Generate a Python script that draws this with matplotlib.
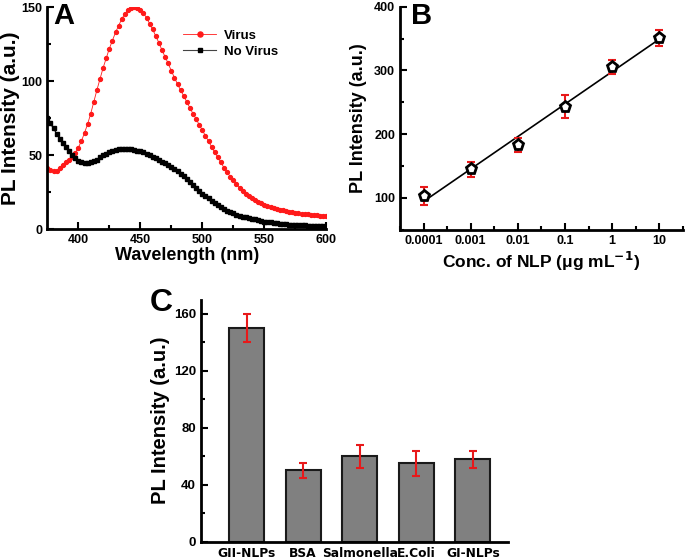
import numpy as np
import matplotlib
matplotlib.use("Agg")
import matplotlib.pyplot as plt
from matplotlib.ticker import FixedLocator, NullFormatter

plt.rcParams['font.family'] = ['Liberation Sans', 'DejaVu Sans']
plt.rcParams['font.weight'] = 'bold'

# ---------------- Panel A data ----------------
wavelength = np.arange(375, 600.1, 2.5)
virus = [41, 40, 39, 39.5, 41, 43, 45, 47, 49, 51.5,
         55, 59.5, 65, 71, 78, 86, 94, 101.5, 109, 115.5,
         122, 127.5, 133, 137.5, 142, 145.5, 148, 149.5, 150, 149.5,
         148, 146, 143, 139, 135, 130.5, 126, 121, 116.5, 112,
         107, 102.5, 98, 94, 90, 86, 82, 78, 74.5, 70.5,
         67, 63, 59.5, 55.5, 52, 48.5, 45, 41.5, 38.5, 35.5,
         33, 30.5, 28, 26, 24, 22.5, 21, 19.7, 18.5, 17.5,
         16.5, 15.7, 15, 14.3, 13.7, 13.1, 12.6, 12.1, 11.7, 11.3,
         11, 10.7, 10.4, 10.1, 9.9, 9.7, 9.5, 9.3, 9.1, 9.0,
         8.8]
no_virus = [75, 71.5, 68, 64.5, 61, 58, 55.5, 52.5, 50, 48,
            46, 45, 44.5, 44.5, 45, 46, 47, 48.5, 50, 51,
            52, 52.8, 53.3, 53.8, 54, 54.2, 54, 53.8, 53.5, 53,
            52.5, 51.8, 51, 50, 49, 47.8, 46.5, 45.5, 44.5, 43.3,
            42, 40.5, 39, 37.5, 36, 34, 32, 30, 28, 26,
            24, 22.5, 21, 19.2, 17.5, 16.2, 15, 13.7, 12.5, 11.5,
            10.5, 9.7, 9, 8.4, 7.9, 7.4, 7, 6.5, 6, 5.5,
            5, 4.7, 4.4, 4.2, 4, 3.7, 3.5, 3.2, 3, 2.9,
            2.7, 2.6, 2.5, 2.4, 2.3, 2.2, 2, 1.9, 1.8, 1.7,
            1.6]

# ---------------- Panel B data ----------------
conc = [0.0001, 0.001, 0.01, 0.1, 1, 10]
conc_labels = ['0.0001', '0.001', '0.01', '0.1', '1', '10']
intensity_b = [103, 145, 183, 243, 306, 351]
err_b = [14, 12, 11, 18, 11, 13]

# ---------------- Panel C data ----------------
samples = ['GII-NLPs', 'BSA', 'Salmonella', 'E.Coli', 'GI-NLPs']
intensity_c = [150, 50, 60, 55, 58]
err_c = [10, 5, 8, 9, 6]

W, H = 685, 559
fig = plt.figure(figsize=(W / 100, H / 100), dpi=100)


def add_ax(left, top, right, bottom):
    return fig.add_axes([left / W, 1 - bottom / H, (right - left) / W, (bottom - top) / H])


def style(ax):
    for s in ('top', 'right'):
        ax.spines[s].set_visible(False)
    for s in ('left', 'bottom'):
        ax.spines[s].set_linewidth(2)
    ax.tick_params(which='both', direction='in', width=1.5, labelsize=9)
    ax.tick_params(which='major', length=5)
    ax.tick_params(which='minor', length=3)
    for lab in ax.get_xticklabels() + ax.get_yticklabels():
        lab.set_fontweight('bold')


# ---------------- Panel A ----------------
axA = add_ax(47.3, 7.3, 326.3, 229)
axA.plot(wavelength, virus, color='#ff1a1a', marker='o', markersize=2.8, lw=0.6,
         label='Virus')
axA.plot(wavelength, no_virus, color='black', marker='s', markersize=2.3, lw=0.8,
         label='No Virus')
axA.set_xlim(375, 600)
axA.set_ylim(0, 150)
axA.set_xticks([400, 450, 500, 550, 600])
axA.xaxis.set_minor_locator(FixedLocator([425, 475, 525, 575]))
axA.set_yticks([0, 50, 100, 150])
axA.yaxis.set_minor_locator(FixedLocator([25, 75, 125]))
axA.set_xlabel('Wavelength (nm)', fontsize=13, fontweight='bold', labelpad=1)
axA.set_ylabel('PL Intensity (a.u.)', fontsize=15, fontweight='bold', labelpad=1)
style(axA)
leg = axA.legend(loc='upper left', bbox_to_anchor=(0.455, 0.94), frameon=False,
                 fontsize=9.5, handlelength=2.5, handletextpad=0.55, labelspacing=0.25,
                 markerscale=1.3, borderpad=0.2)
for t in leg.get_texts():
    t.set_fontweight('bold')
leg.get_lines()[1].set_color('#444444')
leg.get_lines()[1].set_markerfacecolor('black')
leg.get_lines()[1].set_markeredgecolor('black')
fig.text(53 / W, 1 - 24 / H, 'A', fontsize=21, fontweight='bold', ha='left', va='baseline')

# ---------------- Panel B ----------------
axB = add_ax(400, 6.7, 683, 229.8)
logc = np.log10(conc)
slope, intercept = np.polyfit(logc, intensity_b, 1)
fit_x = np.array([conc[0], conc[-1]])
axB.plot(fit_x, intercept + slope * np.log10(fit_x), color='black', lw=1.2)
axB.errorbar(conc, intensity_b, yerr=err_b, fmt='none', ecolor='#e8191a',
             elinewidth=1.5, capsize=2.8, capthick=1.5)
axB.plot(conc, intensity_b, linestyle='none', marker='p', markersize=8,
         markerfacecolor='white', markeredgecolor='black', markeredgewidth=2)
axB.set_xscale('log')
axB.set_xlim(10 ** -4.5, 10 ** 1.5)
axB.set_ylim(50, 400)
axB.xaxis.set_major_locator(FixedLocator(conc))
axB.set_xticklabels(conc_labels)
axB.xaxis.set_minor_locator(FixedLocator([10 ** (k + 0.5) for k in range(-5, 2)]))
axB.xaxis.set_minor_formatter(NullFormatter())
axB.set_yticks([100, 200, 300, 400])
axB.yaxis.set_minor_locator(FixedLocator([50, 150, 250, 350]))
axB.set_xlabel('Conc. of NLP (\u03bcg mL$^{\\mathbf{-1}}$)', fontsize=12.5,
               fontweight='bold', labelpad=2)
axB.set_ylabel('PL Intensity (a.u.)', fontsize=13, fontweight='bold', labelpad=5)
style(axB)
fig.text(411 / W, 1 - 24 / H, 'B', fontsize=21, fontweight='bold', ha='left', va='baseline')

# ---------------- Panel C ----------------
axC = add_ax(200.7, 299.5, 508, 541.7)
xpos = np.arange(len(samples))
axC.bar(xpos, intensity_c, width=0.62, color='#808080', edgecolor='#1a1a1a', linewidth=1.5)
axC.errorbar(xpos, intensity_c, yerr=err_c, fmt='none', ecolor='#e8191a',
             elinewidth=1.5, capsize=3, capthick=1.5)
axC.set_xlim(-0.81, 4.62)
axC.set_ylim(0, 170)
axC.set_xticks(xpos)
axC.set_xticklabels(samples)
axC.set_yticks([0, 40, 80, 120, 160])
axC.yaxis.set_minor_locator(FixedLocator([20, 60, 100, 140]))
axC.set_ylabel('PL Intensity (a.u.)', fontsize=14.5, fontweight='bold', labelpad=3)
style(axC)
axC.tick_params(axis='x', which='both', length=0, pad=4)
axC.tick_params(axis='y', labelsize=9.5)
for lab in axC.get_xticklabels():
    lab.set_fontfamily('DejaVu Sans')
    lab.set_fontweight('bold')
    lab.set_fontsize(8.8)
for lab in axC.get_yticklabels():
    lab.set_fontweight('bold')
fig.text(150 / W, 1 - 311 / H, 'C', fontsize=23, fontweight='bold', ha='left', va='baseline')

fig.savefig('out.png', dpi=100)
